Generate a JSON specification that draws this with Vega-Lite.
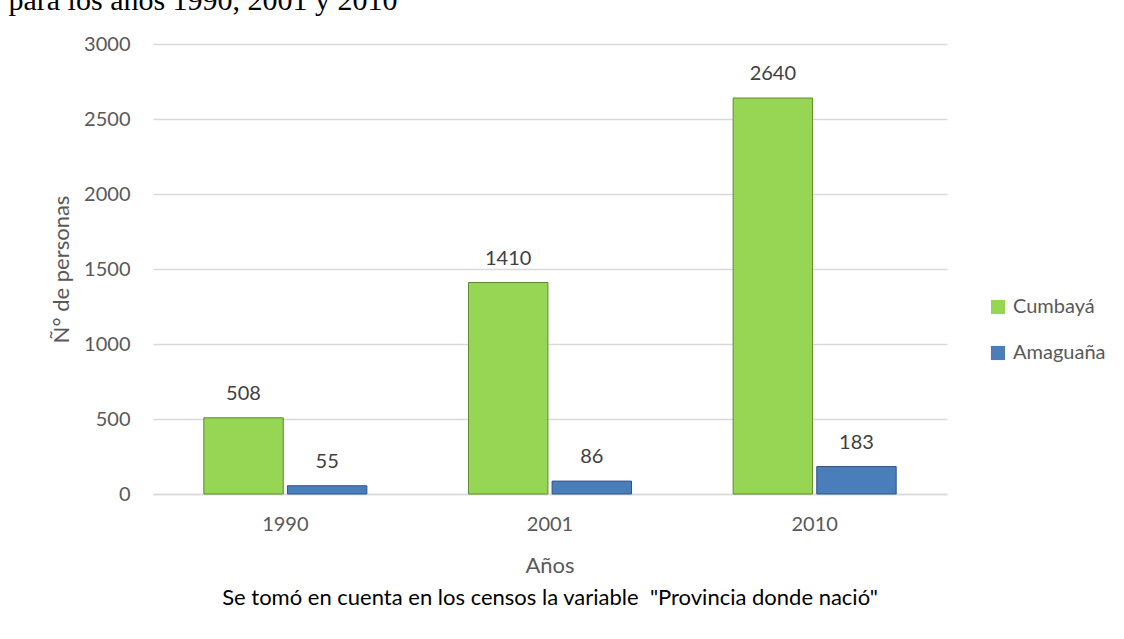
{
  "$schema": "https://vega.github.io/schema/vega-lite/v6.json",
  "width": 794,
  "height": 450,
  "autosize": {"type": "none"},
  "padding": {"left": 153, "top": 44, "right": 177, "bottom": 145},
  "background": "white",
  "title": {
    "text": "Años",
    "subtitle": "Se tomó en cuenta en los censos la variable\u00a0 \"Provincia donde nació\"",
    "orient": "bottom",
    "anchor": "middle",
    "font": "Lato",
    "fontSize": 22,
    "fontWeight": "normal",
    "color": "#595959",
    "subtitleFont": "Lato",
    "subtitleFontSize": 22,
    "subtitleColor": "#000000",
    "subtitlePadding": 10,
    "offset": 22
  },
  "data": {
    "values": [
      {"anio": "1990", "serie": "Cumbayá", "valor": 508},
      {"anio": "1990", "serie": "Amaguaña", "valor": 55},
      {"anio": "2001", "serie": "Cumbayá", "valor": 1410},
      {"anio": "2001", "serie": "Amaguaña", "valor": 86},
      {"anio": "2010", "serie": "Cumbayá", "valor": 2640},
      {"anio": "2010", "serie": "Amaguaña", "valor": 183}
    ]
  },
  "encoding": {
    "x": {"field": "anio", "type": "nominal", "scale": {"paddingInner": 0.384, "paddingOuter": 0.192}},
    "xOffset": {"field": "serie", "type": "nominal", "sort": ["Cumbayá", "Amaguaña"], "scale": {"paddingInner": 0.05}},
    "y": {
      "field": "valor", "type": "quantitative",
      "scale": {"domain": [0, 3000]},
      "axis": {
        "values": [0, 500, 1000, 1500, 2000, 2500, 3000],
        "format": "d",
        "title": "Ñ° de personas",
        "titleFont": "Lato", "titleFontSize": 22, "titleFontWeight": "normal", "titleColor": "#595959",
        "titleAngle": -90, "titleX": -92, "titleY": 225, "titleAlign": "center", "titleBaseline": "middle",
        "labelFont": "Lato", "labelFontSize": 20, "labelColor": "#595959", "labelPadding": 23,
        "ticks": false, "domain": false,
        "gridColor": "#d9d9d9", "gridWidth": 1.5
      }
    }
  },
  "layer": [
    {
      "mark": {"type": "bar", "strokeWidth": 1},
      "encoding": {
        "x": {"field": "anio", "type": "nominal",
          "axis": {"orient": "bottom", "title": null, "labelAngle": 0, "labelFont": "Lato", "labelFontSize": 20, "labelColor": "#595959", "labelPadding": 20, "ticks": false, "domain": true, "domainColor": "#d9d9d9", "domainWidth": 1.5}},
        "color": {
          "field": "serie", "type": "nominal",
          "sort": ["Cumbayá", "Amaguaña"],
          "scale": {"domain": ["Cumbayá", "Amaguaña"], "range": ["#96d654", "#4a7ebb"]},
          "legend": {
            "orient": "none", "legendX": 835, "legendY": 253, "title": null,
            "symbolType": "square", "symbolSize": 200, "symbolStrokeWidth": 0,
            "labelFont": "Lato", "labelFontSize": 20, "labelColor": "#595959",
            "labelOffset": 5, "rowPadding": 26
          }
        },
        "stroke": {
          "field": "serie", "type": "nominal",
          "scale": {"domain": ["Cumbayá", "Amaguaña"], "range": ["#5c8a2c", "#2f5484"]},
          "legend": null
        }
      }
    },
    {
      "mark": {"type": "text", "font": "Lato", "fontSize": 20, "color": "#404040", "baseline": "alphabetic", "dy": -18},
      "encoding": {
        "x": {"field": "anio", "type": "nominal",
          "axis": {"orient": "top", "labels": false, "ticks": false, "domain": false, "grid": false,
            "title": "para los años 1990, 2001 y 2010",
            "titleFont": "Liberation Serif", "titleFontSize": 30, "titleFontWeight": "normal", "titleColor": "#000000",
            "titleX": -145, "titleY": -35, "titleAlign": "left", "titleBaseline": "alphabetic", "titleAngle": 0}},
        "text": {"field": "valor", "type": "quantitative"}
      }
    }
  ],
  "resolve": {"axis": {"x": "independent"}},
  "config": {"view": {"stroke": null}}
}
